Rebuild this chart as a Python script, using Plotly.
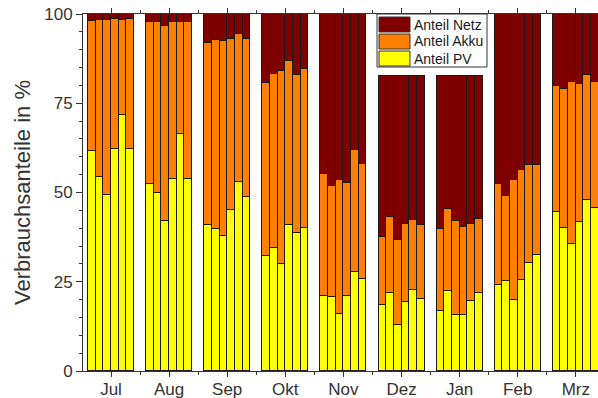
import plotly.graph_objects as go

months = ["Jul", "Aug", "Sep", "Okt", "Nov", "Dez", "Jan", "Feb", "Mrz"]

pv = [
    [61.5, 54.3, 49.4, 62.2, 71.7, 62.2],
    [52.5, 49.8, 41.9, 53.7, 66.3, 53.7],
    [40.8, 39.9, 37.9, 45.2, 53.0, 48.7],
    [32.2, 34.5, 29.9, 40.8, 38.6, 40.1],
    [21.0, 20.6, 16.1, 21.0, 27.8, 25.9],
    [18.4, 21.9, 12.8, 19.3, 22.6, 20.3],
    [16.7, 22.5, 15.6, 15.6, 19.6, 21.9],
    [24.2, 25.2, 20.0, 25.6, 30.2, 32.4],
    [44.4, 40.0, 35.5, 41.8, 48.0, 45.7],
]
akku = [
    [36.5, 44.1, 49.0, 36.5, 26.6, 36.5],
    [45.2, 47.9, 54.8, 44.0, 31.6, 44.1],
    [51.0, 52.8, 54.5, 47.9, 41.4, 44.4],
    [48.5, 48.6, 54.2, 46.0, 44.2, 44.6],
    [34.1, 31.3, 37.5, 31.7, 34.0, 32.0],
    [19.0, 21.3, 23.8, 21.8, 19.8, 20.5],
    [23.0, 22.8, 26.5, 24.8, 21.5, 20.8],
    [28.1, 23.8, 33.5, 30.6, 27.4, 25.2],
    [35.5, 39.0, 45.5, 38.5, 34.9, 35.3],
]
netz = [
    [2.0, 1.6, 1.6, 1.3, 1.7, 1.3],
    [2.3, 2.3, 3.3, 2.3, 2.1, 2.2],
    [8.2, 7.3, 7.6, 6.9, 5.6, 6.9],
    [19.3, 16.9, 15.9, 13.2, 17.2, 15.3],
    [44.9, 48.1, 46.4, 47.3, 38.2, 42.1],
    [45.2, 39.4, 46.0, 41.5, 40.2, 41.8],
    [42.9, 37.3, 40.5, 42.2, 41.5, 39.9],
    [47.7, 51.0, 46.5, 43.8, 42.4, 42.4],
    [20.1, 21.0, 19.0, 19.7, 17.1, 19.0],
]
series_names = ["Anteil PV", "Anteil Akku", "Anteil Netz"]
colors = ["#ffff00", "#ff8000", "#800000"]

slot = 0.132
xs, pv_f, akku_f, netz_f = [], [], [], []
for m in range(len(months)):
    for j in range(6):
        xs.append(m + (j - 2.5) * slot)
        pv_f.append(pv[m][j])
        akku_f.append(akku[m][j])
        netz_f.append(netz[m][j])

fig = go.Figure()
for name, vals, col in zip(series_names, [pv_f, akku_f, netz_f], colors):
    fig.add_trace(go.Bar(
        x=xs, y=vals, name=name, width=slot,
        marker=dict(color=col, line=dict(color="#1a1a1a", width=1)),
        showlegend=False,
    ))

W, H = 598, 398
L, R, T, B = 83, 0, 14, 27
fig.update_layout(
    width=W, height=H, barmode="stack", bargap=0,
    margin=dict(l=L, r=R, t=T, b=B, autoexpand=False),
    paper_bgcolor="white", plot_bgcolor="white",
    font=dict(family="Liberation Sans, Arial, sans-serif", color="#333333"),
)
fig.update_xaxes(
    range=[-0.482, 8.382], tickmode="array", tickvals=list(range(len(months))),
    ticktext=months, ticks="outside", ticklen=5, tickcolor="#333333",
    showline=True, linecolor="#333333", linewidth=1, mirror="allticks",
    showgrid=False, zeroline=False, tickfont=dict(size=17, color="#333333"),
    ticklabelstandoff=-2,
    minor=dict(tickmode="linear", tick0=0.5, dtick=1, ticks="outside",
               ticklen=3, tickcolor="#333333", showgrid=False),
)
fig.update_yaxes(
    range=[0, 100], tickmode="array", tickvals=[0, 25, 50, 75, 100],
    ticks="outside", ticklen=6, tickcolor="#333333",
    showline=True, linecolor="#333333", linewidth=1, mirror=False,
    showgrid=False, zeroline=False, tickfont=dict(size=17, color="#333333"),
    minor=dict(tickmode="linear", tick0=0, dtick=5, ticks="outside",
               ticklen=3, tickcolor="#333333", showgrid=False),
    title=dict(text="Verbrauchsanteile in %", font=dict(size=22, color="#333333"),
               standoff=7),
)

pw, ph = W - L - R, H - T - B
def px(x):
    return (x - L) / pw
def py(y):
    return 1 - (y - T) / ph

fig.add_shape(type="rect", xref="paper", yref="paper",
              x0=px(377), x1=px(487), y0=py(67), y1=py(14),
              fillcolor="white", line=dict(color="#333333", width=1))
legend_items = [("Anteil Netz", "#800000", 17), ("Anteil Akku", "#ff8000", 34),
                ("Anteil PV", "#ffff00", 51)]
for txt, col, ytop in legend_items:
    fig.add_shape(type="rect", xref="paper", yref="paper",
                  x0=px(379), x1=px(410), y0=py(ytop + 15), y1=py(ytop),
                  fillcolor=col, line=dict(color="#333333", width=1))
    fig.add_annotation(xref="paper", yref="paper", x=px(412), y=py(ytop + 7.5),
                       text=txt, showarrow=False, xanchor="left", yanchor="middle",
                       font=dict(size=14, color="#1a1a1a"))

fig.write_html("out.html", config={"displayModeBar": False},
               post_script="document.body.style.margin='0';document.body.style.overflow='hidden';")
